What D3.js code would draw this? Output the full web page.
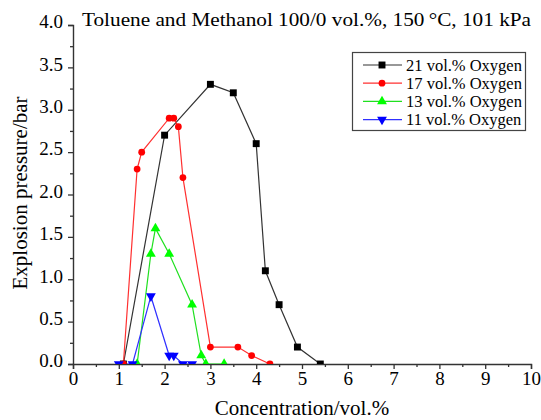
<!DOCTYPE html>
<html>
<head>
<meta charset="utf-8">
<script src="https://cdn.jsdelivr.net/npm/d3@7"></script>
<style>
  body { margin: 0; background: #fff; }
  text { font-family: "Liberation Serif", "Times New Roman", serif; fill: #000; }
</style>
</head>
<body>
<svg id="chart" width="541" height="420"></svg>
<script>
// Data (x = concentration vol.%, y = pressure bar)
var conc21 = [1.1, 2.0, 3.0, 3.5, 4.0, 4.2, 4.5, 4.9, 5.4];
var pres21 = [0, 2.7, 3.3, 3.2, 2.6, 1.1, 0.7, 0.2, 0];

var conc17 = [1.1, 1.4, 1.5, 2.1, 2.2, 2.3, 2.4, 3.0, 3.6, 3.9, 4.3];
var pres17 = [0, 2.3, 2.5, 2.9, 2.9, 2.8, 2.2, 0.2, 0.2, 0.1, 0];

var conc13 = [1.4, 1.7, 1.8, 2.1, 2.6, 2.8, 2.9, 3.3];
var pres13 = [0, 1.3, 1.6, 1.3, 0.7, 0.1, 0, 0];

var conc11 = [1.0, 1.3, 1.7, 2.1, 2.2, 2.4, 2.6];
var pres11 = [0, 0, 0.8, 0.1, 0.1, 0, 0];

var seriesNames = ["21 vol.% Oxygen", "17 vol.% Oxygen", "13 vol.% Oxygen", "11 vol.% Oxygen"];
var xTicks = [0, 1, 2, 3, 4, 5, 6, 7, 8, 9, 10];
var yTicks = [0, 0.5, 1, 1.5, 2, 2.5, 3, 3.5, 4];

var titleText = "Toluene and Methanol 100/0 vol.%, 150\u2009\u00B0C, 101 kPa";

// series styles
var styles = [
    { marker: "#000000", line: "#333333", symbol: d3.symbolSquare, size: 48, rot: 0 },
    { marker: "#ff0000", line: "#ff3030", symbol: d3.symbolCircle, size: 36, rot: 0 },
    { marker: "#00ff00", line: "#20e020", symbol: d3.symbolTriangle, size: 42, rot: 0 },
    { marker: "#0000ff", line: "#3030ff", symbol: d3.symbolTriangle, size: 42, rot: 180 }
];

var series = [
    d3.zip(conc21, pres21),
    d3.zip(conc17, pres17),
    d3.zip(conc13, pres13),
    d3.zip(conc11, pres11)
];

var svg = d3.select("#chart");

var x = d3.scaleLinear().domain([0, 10]).range([73, 531]);
var y = d3.scaleLinear().domain([0, 4]).range([364, 25]);

// clip so markers at 0 are cut by the axis like in the original
svg.append("clipPath").attr("id", "plotClip")
    .append("rect")
    .attr("x", x(0)).attr("y", y(4) - 10)
    .attr("width", x(10) - x(0) + 10).attr("height", y(0) - y(4) + 10);

// Title
svg.append("text")
    .attr("x", 82)
    .attr("y", 26)
    .attr("textLength", 449)
    .attr("lengthAdjust", "spacingAndGlyphs")
    .style("font-size", "19px")
    .text(titleText);

// x axis
var xAxis = svg.append("g")
    .attr("transform", "translate(0," + y(0) + ")")
    .call(d3.axisBottom(x).tickValues(xTicks).tickFormat(d3.format("d")).tickSize(5).tickPadding(3));

// minor x ticks
svg.append("g")
    .attr("transform", "translate(0," + y(0) + ")")
    .call(d3.axisBottom(x).tickValues(d3.range(0.5, 10, 1)).tickFormat("").tickSize(3))
    .select(".domain").remove();

// y axis
var yAxis = svg.append("g")
    .attr("transform", "translate(" + x(0) + ",0)")
    .call(d3.axisLeft(y).tickValues(yTicks).tickFormat(d3.format(".1f")).tickSize(5).tickPadding(5));

svg.append("g")
    .attr("transform", "translate(" + x(0) + ",0)")
    .call(d3.axisLeft(y).tickValues(d3.range(0.25, 4, 0.5)).tickFormat("").tickSize(3))
    .select(".domain").remove();

svg.selectAll(".domain").attr("stroke", "#333").attr("stroke-width", 1.4);
svg.selectAll(".tick line").attr("stroke", "#333").attr("stroke-width", 1.3);
svg.selectAll(".tick text")
    .style("font-family", "Liberation Serif, Times New Roman, serif")
    .style("font-size", "19px")
    .attr("fill", "#000");
yAxis.selectAll(".tick text").attr("dy", "0.15em");

// axis titles
svg.append("text")
    .attr("x", (x(0) + x(10)) / 2)
    .attr("y", 415)
    .attr("text-anchor", "middle")
    .style("font-size", "21px")
    .text("Concentration/vol.%");

svg.append("text")
    .attr("transform", "translate(27," + 193 + ") rotate(-90)")
    .attr("text-anchor", "middle")
    .style("font-size", "21px")
    .text("Explosion pressure/bar");

// lines and markers
var line = d3.line()
    .x(function(d) { return x(d[0]); })
    .y(function(d) { return y(d[1]); });

var plot = svg.append("g").attr("clip-path", "url(#plotClip)");

series.forEach(function(data, i) {
    var s = styles[i];
    plot.append("path")
        .datum(data)
        .attr("d", line)
        .attr("fill", "none")
        .attr("stroke", s.line)
        .attr("stroke-width", 1.2);
});

series.forEach(function(data, i) {
    var s = styles[i];
    plot.selectAll(".m" + i)
        .data(data)
        .enter().append("path")
        .attr("d", d3.symbol().type(s.symbol).size(s.size))
        .attr("transform", function(d) {
            return "translate(" + x(d[0]) + "," + y(d[1]) + ") rotate(" + s.rot + ")";
        })
        .attr("fill", s.marker);
});

// Legend
var legend = svg.append("g");
legend.append("rect")
    .attr("x", 352.5).attr("y", 52.5)
    .attr("width", 173).attr("height", 78)
    .attr("fill", "#fff")
    .attr("stroke", "#444")
    .attr("stroke-width", 1.2);

seriesNames.forEach(function(name, i) {
    var s = styles[i];
    var ly = 65 + i * 18.2;
    legend.append("line")
        .attr("x1", 363).attr("x2", 402)
        .attr("y1", ly).attr("y2", ly)
        .attr("stroke", s.line)
        .attr("stroke-width", 1.2);
    legend.append("path")
        .attr("d", d3.symbol().type(s.symbol).size(s.size))
        .attr("transform", "translate(382," + ly + ") rotate(" + s.rot + ")")
        .attr("fill", s.marker);
    legend.append("text")
        .attr("x", 406)
        .attr("y", ly + 5.5)
        .style("font-size", "16.5px")
        .text(name);
});
</script>
</body>
</html>
